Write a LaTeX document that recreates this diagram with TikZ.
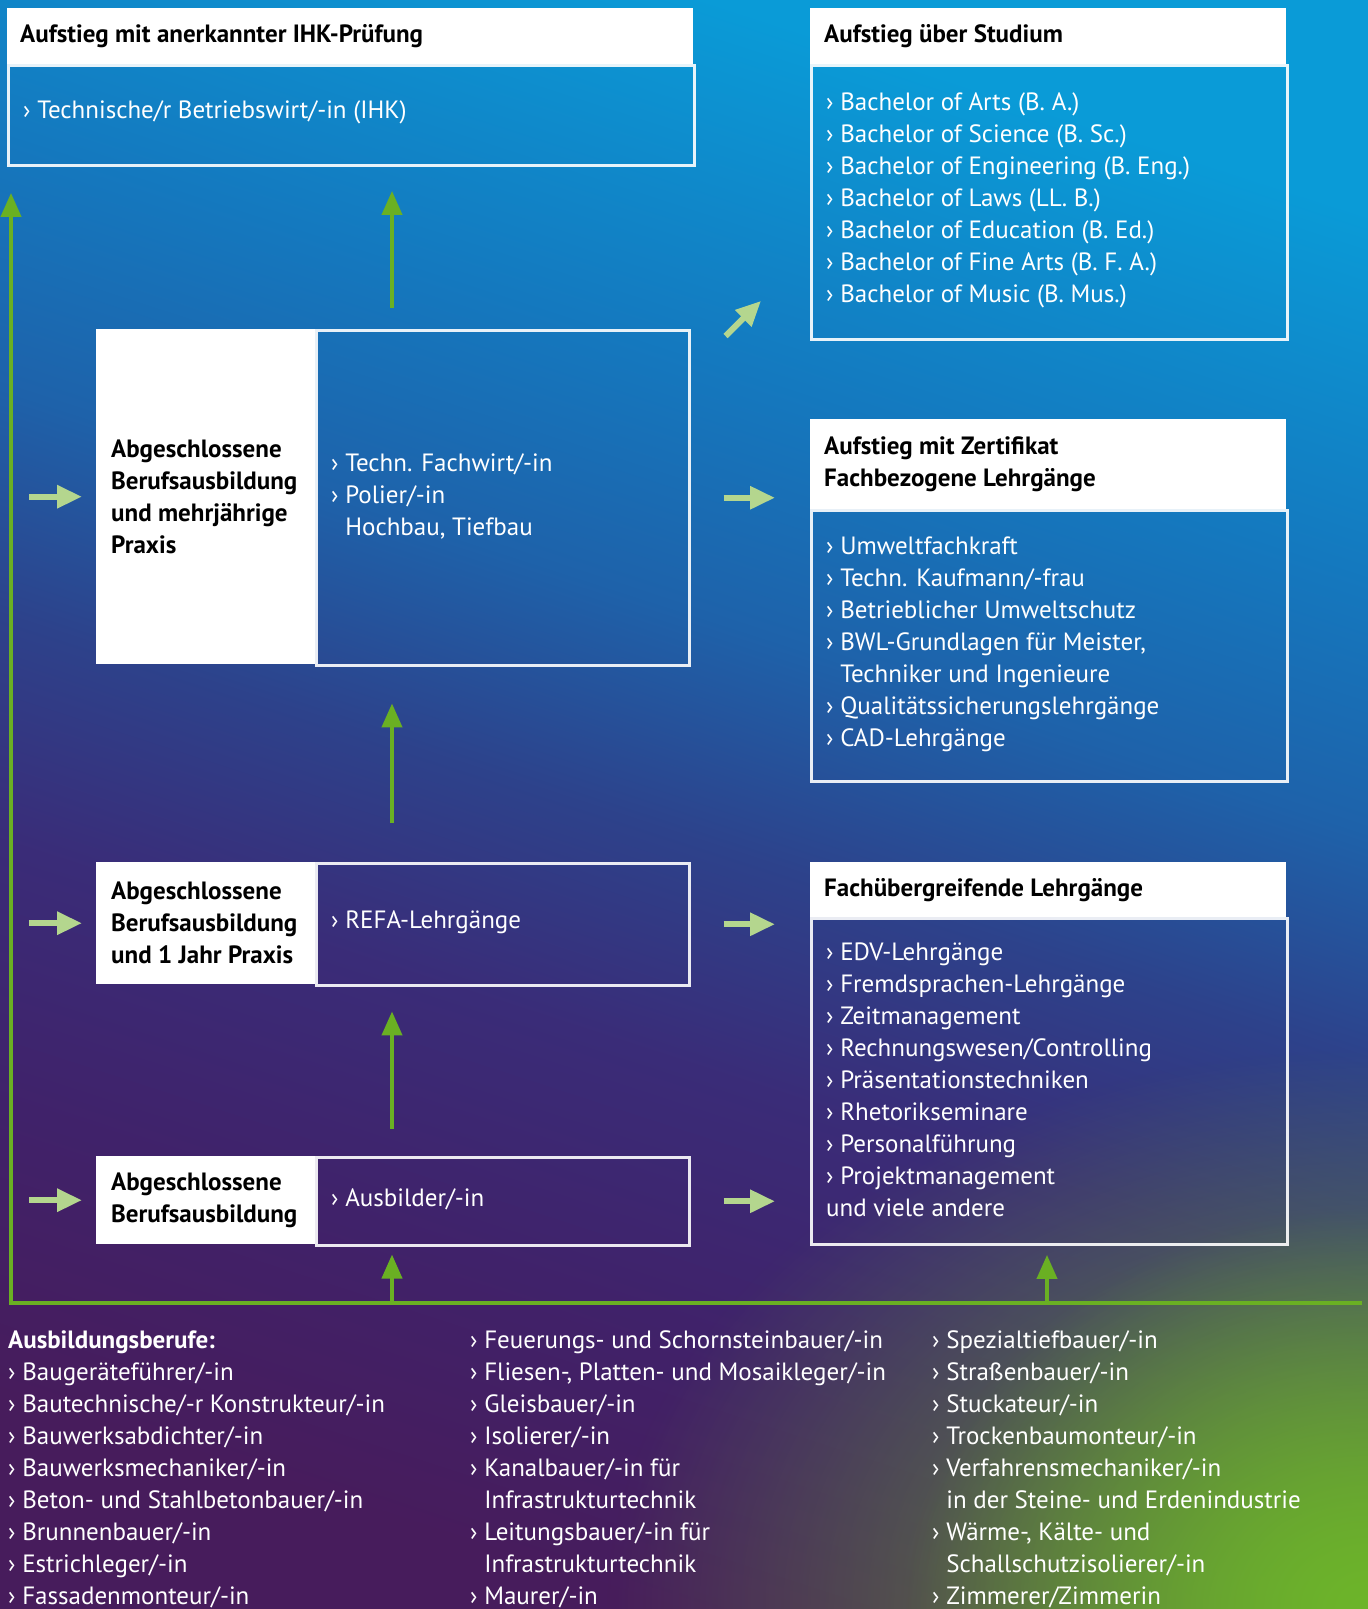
\documentclass[tikz,border=0pt]{standalone}
\usepackage{fontspec}
\setmainfont{PT Sans}
\usetikzlibrary{arrows.meta,positioning,calc,fadings}

\definecolor{bgA}{HTML}{471C5C}
\definecolor{bgB}{HTML}{40226A}
\definecolor{bgC}{HTML}{3A2C78}
\definecolor{bgD}{HTML}{2D428B}
\definecolor{bgE}{HTML}{1E62AA}
\definecolor{bgF}{HTML}{1479BF}
\definecolor{bgG}{HTML}{0A9BD7}
\definecolor{glowgreen}{HTML}{6DB52A}
\definecolor{arrowgreen}{HTML}{6AB023}
\definecolor{palegreen}{HTML}{B4D68E}

\pgfdeclareverticalshading{bgshade}{100bp}{color(0bp)=(bgA); color(25bp)=(bgA);
  color(34bp)=(bgB); color(42bp)=(bgC); color(49bp)=(bgD); color(56bp)=(bgE);
  color(64bp)=(bgF); color(75bp)=(bgG); color(100bp)=(bgG)}
\tikzfading[name=glow, inner color=transparent!0, outer color=transparent!100]

\tikzset{
  headbox/.style={fill=white,inner sep=0pt,anchor=north west},
  bodybox/.style={draw=white,draw opacity=0.9,line width=2.5pt,inner sep=0pt,anchor=north west},
  sidebox/.style={fill=white,inner sep=0pt,anchor=north west},
  headtext/.style={font=\fontsize{25}{32}\selectfont\bfseries,text=black,anchor=west,inner sep=0pt,align=left},
  listtext/.style={font=\fontsize{25}{32}\selectfont,text=white,anchor=west,inner sep=0pt,align=left},
  uparrow/.style={draw=arrowgreen,line width=4pt,-{Triangle[width=20pt,length=24pt]}},
  sidearrow/.style={draw=palegreen,line width=6pt,-{Triangle[width=22pt,length=25pt]}}
}
\newcommand{\bul}{›\ }
\newcommand{\cont}{\hphantom{›\ }}

\begin{document}
\begin{tikzpicture}[x=1pt,y=-1pt]

    % Define the division points (pixels of the layout)
    \def\xside{96}    % left edge of the white side boxes
    \def\xmid{315}    % white side box / blue body boundary
    \def\xright{810}  % left edge of the right column
    \def\wright{476}  % width of the right column boxes

    \useasboundingbox (0,0) rectangle (1368,1609);

    % -- Background: blue to purple, green glow in the corner --
    \shade[shading=bgshade,shading angle=-18] (0,0) rectangle (1368,1609);
    \fill[glowgreen,fill opacity=0.85,path fading=glow,fit fading=true] (1368,1609) ellipse (760 and 560);
    \fill[glowgreen,path fading=glow,fit fading=true] (1368,1609) ellipse (460 and 400);

    % -- Top left: IHK --
    \node[headbox,minimum width=686pt,minimum height=56pt] (ihkhead) at (7,8) {};
    \node[headtext] at ([xshift=13pt]ihkhead.west) {Aufstieg mit anerkannter IHK-Prüfung};
    \node[bodybox,minimum width=686pt,minimum height=100pt] (ihkbody) at (ihkhead.south west) {};
    \node[listtext] at ([xshift=16pt,yshift=3pt]ihkbody.west) {\bul Technische/r Betriebswirt/-in (IHK)};

    % -- Top right: Studium --
    \node[headbox,minimum width=\wright pt,minimum height=56pt] (studhead) at (\xright,8) {};
    \node[headtext] at ([xshift=14pt]studhead.west) {Aufstieg über Studium};
    \node[bodybox,minimum width=\wright pt,minimum height=274pt] (studbody) at (studhead.south west) {};
    \node[listtext] at ([xshift=16pt,yshift=2pt]studbody.west) {\bul Bachelor of Arts (B. A.)\\
      \bul Bachelor of Science (B. Sc.)\\
      \bul Bachelor of Engineering (B. Eng.)\\
      \bul Bachelor of Laws (LL. B.)\\
      \bul Bachelor of Education (B. Ed.)\\
      \bul Bachelor of Fine Arts (B. F. A.)\\
      \bul Bachelor of Music (B. Mus.)};

    % -- Right: Zertifikat --
    \node[headbox,minimum width=\wright pt,minimum height=90pt] (zerthead) at (\xright,419) {};
    \node[headtext] at ([xshift=14pt]zerthead.west) {Aufstieg mit Zertifikat\\Fachbezogene Lehrgänge};
    \node[bodybox,minimum width=\wright pt,minimum height=271pt] (zertbody) at (zerthead.south west) {};
    \node[listtext] at ([xshift=16pt,yshift=2pt]zertbody.west) {\bul Umweltfachkraft\\
      \bul Techn. Kaufmann/-frau\\
      \bul Betrieblicher Umweltschutz\\
      \bul BWL-Grundlagen für Meister,\\
      \cont Techniker und Ingenieure\\
      \bul Qualitätssicherungslehrgänge\\
      \bul CAD-Lehrgänge};

    % -- Right: Fachuebergreifend --
    \node[headbox,minimum width=\wright pt,minimum height=55pt] (fachhead) at (\xright,862) {};
    \node[headtext] at ([xshift=14pt]fachhead.west) {Fachübergreifende Lehrgänge};
    \node[bodybox,minimum width=\wright pt,minimum height=326pt] (fachbody) at (fachhead.south west) {};
    \node[listtext] at ([xshift=16pt,yshift=2pt]fachbody.west) {\bul EDV-Lehrgänge\\
      \bul Fremdsprachen-Lehrgänge\\
      \bul Zeitmanagement\\
      \bul Rechnungswesen/Controlling\\
      \bul Präsentationstechniken\\
      \bul Rhetorikseminare\\
      \bul Personalführung\\
      \bul Projektmanagement\\
      und viele andere};

    % -- Middle column: the three levels --
    \node[sidebox,minimum width=219pt,minimum height=335pt] (praxside) at (\xside,329) {};
    \node[headtext] at ([xshift=15pt]praxside.west) {Abgeschlossene\\Berufsausbildung\\und mehrjährige\\Praxis};
    \node[bodybox,minimum width=373pt,minimum height=335pt] (praxbody) at (\xmid,329) {};
    \node[listtext] at ([xshift=16pt,yshift=1pt]praxbody.west) {\bul Techn. Fachwirt/-in\\
      \bul Polier/-in\\
      \cont Hochbau, Tiefbau};

    \node[sidebox,minimum width=219pt,minimum height=122pt] (refaside) at (\xside,862) {};
    \node[headtext] at ([xshift=15pt]refaside.west) {Abgeschlossene\\Berufsausbildung\\und 1 Jahr Praxis};
    \node[bodybox,minimum width=373pt,minimum height=122pt] (refabody) at (\xmid,862) {};
    \node[listtext] at ([xshift=16pt,yshift=2pt]refabody.west) {\bul REFA-Lehrgänge};

    \node[sidebox,minimum width=219pt,minimum height=88pt] (ausbside) at (\xside,1156) {};
    \node[headtext] at ([xshift=15pt]ausbside.west) {Abgeschlossene\\Berufsausbildung};
    \node[bodybox,minimum width=373pt,minimum height=88pt] (ausbbody) at (\xmid,1156) {};
    \node[listtext] at ([xshift=16pt,yshift=2pt]ausbbody.west) {\bul Ausbilder/-in};

    % -- Green frame and upward arrows --
    \coordinate (spine) at (11,1303);
    \coordinate (colA) at (392,1303);
    \coordinate (colB) at (1047,1303);
    \coordinate (frameend) at (1362,1303);
    \draw[uparrow,line join=miter,shorten >=26pt] (frameend) -- (spine) -- (spine |- ihkbody.south);
    \draw[uparrow,shorten >=8pt] (colA) -- (colA |- ausbbody.south);
    \draw[uparrow,shorten >=9pt] (colB) -- (colB |- fachbody.south);
    \draw[uparrow,shorten <=27pt,shorten >=27pt] (colA |- ausbside.north) -- (colA |- refaside.south);
    \draw[uparrow,shorten <=39pt,shorten >=39pt] (colA |- refaside.north) -- (colA |- praxside.south);
    \draw[uparrow,shorten <=21pt,shorten >=24pt] (colA |- praxside.north) -- (colA |- ihkbody.south);

    % -- Pale arrows into and out of the levels --
    \foreach \lvl/\dest in {prax/zert,refa/fach,ausb/fach}{
      \draw[sidearrow] ([xshift=-67pt]\lvl side.west) -- ([xshift=-14pt]\lvl side.west);
      \draw[sidearrow,shorten <=33pt,shorten >=35pt] (\lvl body.east) -- (\lvl body.east -| \dest body.west);
    }
    \draw[sidearrow] ($(praxbody.north east)+(35,7)$) -- ($(studbody.south west)+(-49,-40)$);

    % -- Ausbildungsberufe --
    \node[listtext] (berufeA) at (8,1469) {\textbf{Ausbildungsberufe:}\\
      \bul Baugeräteführer/-in\\
      \bul Bautechnische/-r Konstrukteur/-in\\
      \bul Bauwerksabdichter/-in\\
      \bul Bauwerksmechaniker/-in\\
      \bul Beton- und Stahlbetonbauer/-in\\
      \bul Brunnenbauer/-in\\
      \bul Estrichleger/-in\\
      \bul Fassadenmonteur/-in};
    \node[listtext] (berufeB) at (470,1469) {\bul Feuerungs- und Schornsteinbauer/-in\\
      \bul Fliesen-, Platten- und Mosaikleger/-in\\
      \bul Gleisbauer/-in\\
      \bul Isolierer/-in\\
      \bul Kanalbauer/-in für\\
      \cont Infrastrukturtechnik\\
      \bul Leitungsbauer/-in für\\
      \cont Infrastrukturtechnik\\
      \bul Maurer/-in};
    \node[listtext] (berufeC) at (932,1469) {\bul Spezialtiefbauer/-in\\
      \bul Straßenbauer/-in\\
      \bul Stuckateur/-in\\
      \bul Trockenbaumonteur/-in\\
      \bul Verfahrensmechaniker/-in\\
      \cont in der Steine- und Erdenindustrie\\
      \bul Wärme-, Kälte- und\\
      \cont Schallschutzisolierer/-in\\
      \bul Zimmerer/Zimmerin};

\end{tikzpicture}
\end{document}
